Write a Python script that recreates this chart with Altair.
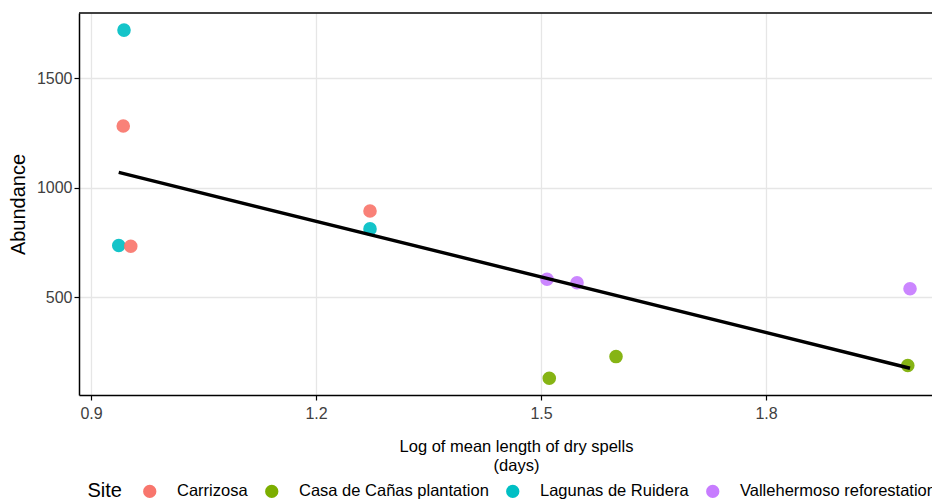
import altair as alt
import pandas as pd

# Data
sites = [
    "Lagunas de Ruidera", "Lagunas de Ruidera", "Lagunas de Ruidera",
    "Carrizosa", "Carrizosa", "Carrizosa",
    "Vallehermoso reforestation", "Vallehermoso reforestation", "Vallehermoso reforestation",
    "Casa de Cañas plantation", "Casa de Cañas plantation", "Casa de Cañas plantation",
]
log_dry = [0.944, 0.937, 1.272, 0.943, 0.953, 1.272, 1.508, 1.548, 1.992, 1.511, 1.600, 1.989]
abundance = [1719, 735, 811, 1281, 732, 893, 581, 565, 538, 129, 228, 187]

site_order = ["Carrizosa", "Casa de Cañas plantation", "Lagunas de Ruidera", "Vallehermoso reforestation"]
site_colors = ["#F8766D", "#7CAE00", "#00BFC4", "#C77CFF"]

x_ticks = [0.9, 1.2, 1.5, 1.8]
y_ticks = [500, 1000, 1500]

df = pd.DataFrame({"Site": sites, "LogDry": log_dry, "Abundance": abundance})

W, H = 853, 382
FONT = "Liberation Sans"

xscale = alt.Scale(domain=[0.884, 2.0213], nice=False, zero=False)
yscale = alt.Scale(domain=[52.5, 1797], nice=False, zero=False)

x_axis = alt.Axis(
    values=x_ticks, format=".1f",
    title=["Log of mean length of dry spells", "(days)"],
    titleFontSize=16.5, titleFontWeight="normal", titleColor="black",
    titleLineHeight=19, titlePadding=17, titleX=437, titleAlign="center",
    labelFontSize=16, labelColor="#404040", labelPadding=5,
    tickSize=5, grid=True,
)
y_axis = alt.Axis(
    values=y_ticks, format="d", title="Abundance",
    titleFontSize=20, titleFontWeight="normal", titleColor="black",
    titlePadding=8,
    labelFontSize=16, labelColor="#404040", labelPadding=2,
    tickSize=5, grid=True,
)

base = alt.Chart(df)

points = base.mark_circle(size=185, opacity=0.92).encode(
    x=alt.X("LogDry:Q", scale=xscale, axis=x_axis),
    y=alt.Y("Abundance:Q", scale=yscale, axis=y_axis),
    color=alt.Color(
        "Site:N",
        scale=alt.Scale(domain=site_order, range=site_colors),
        legend=alt.Legend(
            title="Site", orient="none", legendX=8.5, legendY=470,
            direction="horizontal", columns=4, titleOrient="left",
            titleFontSize=20, titleFontWeight="normal", titleColor="black",
            titlePadding=19, titleBaseline="middle",
            labelFontSize=16.5, labelColor="black", labelOffset=19,
            labelLimit=0,
            columnPadding=15, symbolType="circle", symbolSize=177,
            symbolOpacity=1, symbolStrokeWidth=0, padding=0,
        ),
    ),
)

fit = base.transform_regression("LogDry", "Abundance").mark_line(
    color="black", strokeWidth=3.4
).encode(
    x=alt.X("LogDry:Q", scale=xscale, axis=x_axis),
    y=alt.Y("Abundance:Q", scale=yscale, axis=y_axis),
)

border = alt.Chart(pd.DataFrame({"k": [0]})).mark_rule(
    color="black", strokeWidth=1.5
).encode(x=alt.value(0), x2=alt.value(W), y=alt.value(0))

chart = alt.layer(points, fit, border).properties(
    width=W, height=H,
    autosize=alt.AutoSizeParams(type="none"),
    padding={"left": 71, "top": 5, "right": 0, "bottom": 105},
).configure(
    font=FONT,
).configure_view(
    stroke=None,
).configure_axis(
    domainColor="black", domainWidth=1.5, tickColor="black", tickWidth=1.2,
    gridColor="#E6E6E6", gridWidth=1.3,
)

chart.save("out.html", embed_options={"renderer": "svg", "actions": False})
